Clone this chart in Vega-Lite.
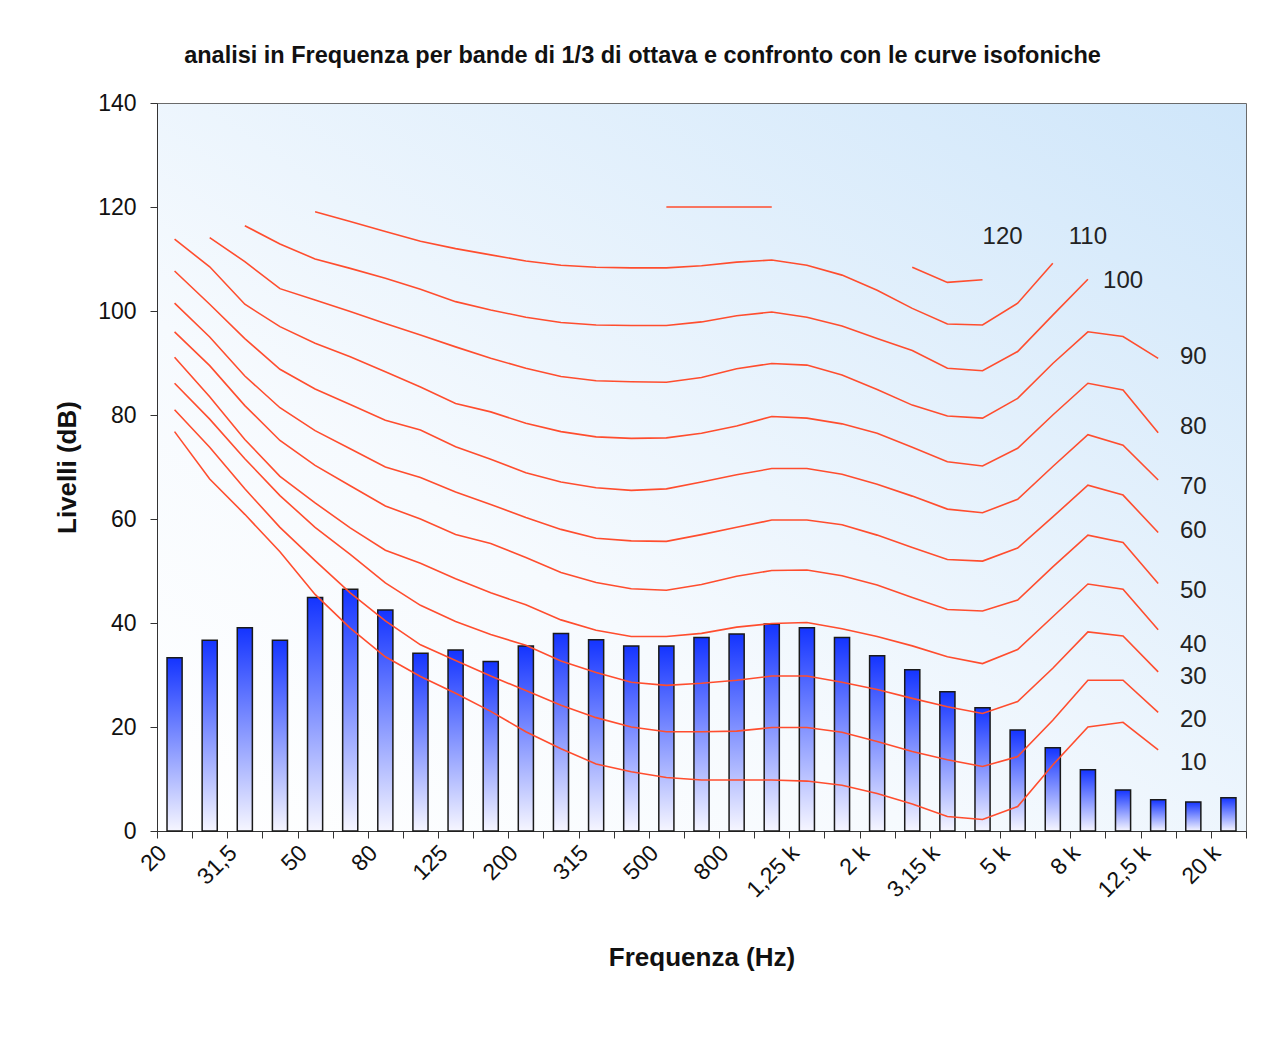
{
  "$schema": "https://vega.github.io/schema/vega-lite/v6.json",
  "width": 1089,
  "height": 728,
  "autosize": {"type": "none"},
  "padding": {"left": 157, "top": 103, "right": 24, "bottom": 223},
  "background": "white",
  "config": {
    "font": "Liberation Sans",
    "view": {
      "fill": {"gradient": "linear", "x1": 0, "y1": 1, "x2": 1, "y2": 0,
        "stops": [{"offset": 0, "color": "#ffffff"}, {"offset": 0.35, "color": "#f6fafe"}, {"offset": 1, "color": "#cfe6fa"}]},
      "stroke": "#6a6a6a",
      "strokeWidth": 1
    },
    "axis": {"grid": false, "domainColor": "#333333", "tickColor": "#333333", "tickSize": 7, "labelColor": "#111111", "labelFontSize": 23, "titleColor": "#111111", "titleFontSize": 26, "titleFontWeight": "bold"}
  },
  "title": {"text": "analisi in Frequenza per bande di 1/3 di ottava e confronto con le curve isofoniche", "fontSize": 23.5, "fontWeight": "bold", "color": "#111111", "offset": 25, "dx": -59},
  "datasets": {
    "bands": [
      {"f": "20", "n": 0, "level": 33.3, "c10": 76.8, "c20": 81.0, "c30": 86.1, "c40": 91.1, "c50": 96.0, "c60": 101.5, "c70": 107.7, "c80": 113.8},
      {"f": "25", "n": 1, "level": 36.7, "c10": 67.7, "c20": 73.8, "c30": 79.2, "c40": 83.5, "c50": 89.5, "c60": 95.0, "c70": 101.3, "c80": 108.5, "c90": 114.1},
      {"f": "31,5", "n": 2, "level": 39.1, "c10": 60.9, "c20": 65.8, "c30": 71.6, "c40": 75.3, "c50": 81.8, "c60": 87.5, "c70": 94.7, "c80": 101.3, "c90": 109.5, "c100": 116.4},
      {"f": "40", "n": 3, "level": 36.7, "c10": 53.7, "c20": 58.4, "c30": 64.5, "c40": 68.2, "c50": 75.1, "c60": 81.4, "c70": 88.8, "c80": 97.0, "c90": 104.3, "c100": 112.9},
      {"f": "50", "n": 4, "level": 44.9, "c10": 45.5, "c20": 52.0, "c30": 58.4, "c40": 63.1, "c50": 70.3, "c60": 77.0, "c70": 85.0, "c80": 93.8, "c90": 102.1, "c100": 110.0, "c110": 119.1},
      {"f": "63", "n": 5, "level": 46.5, "c10": 39.0, "c20": 45.8, "c30": 53.2, "c40": 58.3, "c50": 66.4, "c60": 73.5, "c70": 82.0, "c80": 91.2, "c90": 99.9, "c100": 108.2, "c110": 117.2},
      {"f": "80", "n": 6, "level": 42.5, "c10": 33.5, "c20": 40.4, "c30": 47.7, "c40": 54.0, "c50": 62.5, "c60": 70.0, "c70": 79.0, "c80": 88.3, "c90": 97.6, "c100": 106.3, "c110": 115.3},
      {"f": "100", "n": 7, "level": 34.2, "c10": 29.7, "c20": 35.8, "c30": 43.4, "c40": 51.5, "c50": 60.0, "c60": 68.0, "c70": 77.1, "c80": 85.4, "c90": 95.4, "c100": 104.2, "c110": 113.4},
      {"f": "125", "n": 8, "level": 34.8, "c10": 26.5, "c20": 32.8, "c30": 40.3, "c40": 48.5, "c50": 57.0, "c60": 65.2, "c70": 73.9, "c80": 82.2, "c90": 93.1, "c100": 101.8, "c110": 112.0},
      {"f": "160", "n": 9, "level": 32.6, "c10": 23.0, "c20": 29.8, "c30": 37.8, "c40": 45.8, "c50": 55.3, "c60": 62.8, "c70": 71.5, "c80": 80.6, "c90": 90.9, "c100": 100.2, "c110": 110.8},
      {"f": "200", "n": 10, "level": 35.6, "c10": 19.1, "c20": 27.0, "c30": 35.7, "c40": 43.5, "c50": 52.6, "c60": 60.3, "c70": 68.9, "c80": 78.4, "c90": 89.0, "c100": 98.8, "c110": 109.6},
      {"f": "250", "n": 11, "level": 38.0, "c10": 15.8, "c20": 24.2, "c30": 32.7, "c40": 40.6, "c50": 49.7, "c60": 58.0, "c70": 67.1, "c80": 76.8, "c90": 87.4, "c100": 97.8, "c110": 108.8},
      {"f": "315", "n": 12, "level": 36.8, "c10": 12.9, "c20": 21.8, "c30": 30.5, "c40": 38.6, "c50": 47.8, "c60": 56.3, "c70": 66.0, "c80": 75.8, "c90": 86.6, "c100": 97.3, "c110": 108.4},
      {"f": "400", "n": 13, "level": 35.6, "c10": 11.4, "c20": 20.0, "c30": 28.6, "c40": 37.4, "c50": 46.6, "c60": 55.8, "c70": 65.5, "c80": 75.5, "c90": 86.4, "c100": 97.2, "c110": 108.3},
      {"f": "500", "n": 14, "level": 35.6, "c10": 10.3, "c20": 19.1, "c30": 28.0, "c40": 37.4, "c50": 46.3, "c60": 55.7, "c70": 65.8, "c80": 75.6, "c90": 86.3, "c100": 97.2, "c110": 108.3, "c120a": 120},
      {"f": "630", "n": 15, "level": 37.2, "c10": 9.8, "c20": 19.1, "c30": 28.4, "c40": 38.0, "c50": 47.4, "c60": 57.0, "c70": 67.1, "c80": 76.5, "c90": 87.2, "c100": 97.9, "c110": 108.7, "c120a": 120},
      {"f": "800", "n": 16, "level": 37.9, "c10": 9.8, "c20": 19.2, "c30": 29.0, "c40": 39.2, "c50": 49.0, "c60": 58.4, "c70": 68.5, "c80": 77.9, "c90": 88.9, "c100": 99.1, "c110": 109.4, "c120a": 120},
      {"f": "1 k", "n": 17, "level": 39.8, "c10": 9.8, "c20": 19.9, "c30": 29.8, "c40": 39.9, "c50": 50.1, "c60": 59.8, "c70": 69.7, "c80": 79.7, "c90": 89.9, "c100": 99.8, "c110": 109.8, "c120a": 120},
      {"f": "1,25 k", "n": 18, "level": 39.1, "c10": 9.6, "c20": 19.9, "c30": 29.8, "c40": 40.1, "c50": 50.2, "c60": 59.8, "c70": 69.7, "c80": 79.4, "c90": 89.6, "c100": 98.8, "c110": 108.8},
      {"f": "1,6 k", "n": 19, "level": 37.2, "c10": 8.8, "c20": 19.0, "c30": 28.6, "c40": 38.9, "c50": 49.1, "c60": 58.9, "c70": 68.6, "c80": 78.3, "c90": 87.7, "c100": 97.1, "c110": 106.9},
      {"f": "2 k", "n": 20, "level": 33.7, "c10": 7.2, "c20": 17.2, "c30": 27.2, "c40": 37.4, "c50": 47.3, "c60": 56.9, "c70": 66.7, "c80": 76.5, "c90": 84.9, "c100": 94.7, "c110": 104.0},
      {"f": "2,5 k", "n": 21, "level": 31.0, "c10": 5.2, "c20": 15.3, "c30": 25.5, "c40": 35.6, "c50": 44.9, "c60": 54.5, "c70": 64.4, "c80": 73.8, "c90": 81.9, "c100": 92.4, "c110": 100.5, "c120b": 108.4},
      {"f": "3,15 k", "n": 22, "level": 26.8, "c10": 2.8, "c20": 13.7, "c30": 23.9, "c40": 33.5, "c50": 42.6, "c60": 52.2, "c70": 61.9, "c80": 71.0, "c90": 79.8, "c100": 89.0, "c110": 97.5, "c120b": 105.5},
      {"f": "4 k", "n": 23, "level": 23.7, "c10": 2.2, "c20": 12.4, "c30": 22.6, "c40": 32.2, "c50": 42.3, "c60": 51.9, "c70": 61.2, "c80": 70.2, "c90": 79.4, "c100": 88.5, "c110": 97.3, "c120b": 106.0},
      {"f": "5 k", "n": 24, "level": 19.4, "c10": 4.7, "c20": 14.3, "c30": 24.9, "c40": 34.9, "c50": 44.4, "c60": 54.4, "c70": 63.8, "c80": 73.6, "c90": 83.2, "c100": 92.2, "c110": 101.5},
      {"f": "6,3 k", "n": 25, "level": 16.0, "c10": 12.7, "c20": 21.3, "c30": 31.3, "c40": 41.2, "c50": 50.8, "c60": 60.4, "c70": 70.1, "c80": 80.0, "c90": 89.9, "c100": 99.2, "c110": 109.2},
      {"f": "8 k", "n": 26, "level": 11.8, "c10": 20.0, "c20": 29.0, "c30": 38.3, "c40": 47.5, "c50": 56.9, "c60": 66.5, "c70": 76.2, "c80": 86.1, "c90": 96.0, "c100": 106.1},
      {"f": "10 k", "n": 27, "level": 7.9, "c10": 20.9, "c20": 29.0, "c30": 37.5, "c40": 46.5, "c50": 55.5, "c60": 64.6, "c70": 74.2, "c80": 84.8, "c90": 95.1},
      {"f": "12,5 k", "n": 28, "level": 6.0, "c10": 15.6, "c20": 22.8, "c30": 30.6, "c40": 38.7, "c50": 47.6, "c60": 57.4, "c70": 67.5, "c80": 76.6, "c90": 90.9},
      {"f": "16 k", "n": 29, "level": 5.6},
      {"f": "20 k", "n": 30, "level": 6.4}
    ],
    "labels": [
      {"f": "4 k", "db": 114.2, "t": "120"},
      {"f": "8 k", "db": 114.2, "t": "110"},
      {"f": "10 k", "db": 105.8, "t": "100"},
      {"f": "16 k", "db": 91.2, "t": "90"},
      {"f": "16 k", "db": 77.7, "t": "80"},
      {"f": "16 k", "db": 66.2, "t": "70"},
      {"f": "16 k", "db": 57.7, "t": "60"},
      {"f": "16 k", "db": 46.2, "t": "50"},
      {"f": "16 k", "db": 35.8, "t": "40"},
      {"f": "16 k", "db": 29.6, "t": "30"},
      {"f": "16 k", "db": 21.3, "t": "20"},
      {"f": "16 k", "db": 13.1, "t": "10"}
    ]
  },
  "encoding": {
    "x": {
      "field": "f", "type": "ordinal",
      "scale": {"domain": ["20", "25", "31,5", "40", "50", "63", "80", "100", "125", "160", "200", "250", "315", "400", "500", "630", "800", "1 k", "1,25 k", "1,6 k", "2 k", "2,5 k", "3,15 k", "4 k", "5 k", "6,3 k", "8 k", "10 k", "12,5 k", "16 k", "20 k"], "paddingInner": 0, "paddingOuter": 0},
      "axis": {
        "title": "Frequenza (Hz)", "labelAngle": -45, "labelAlign": "right", "labelBaseline": "middle",
        "tickBand": "extent", "labelPadding": 11, "labelOffset": -12, "titlePadding": 43, "labelOverlap": false,
        "labelExpr": "indexof(['20','31,5','50','80','125','200','315','500','800','1,25 k','2 k','3,15 k','5 k','8 k','12,5 k','20 k'], datum.value) >= 0 ? datum.label : ''"
      }
    }
  },
  "layer": [
    {
      "data": {"name": "bands"},
      "mark": {
        "type": "bar", "width": {"band": 0.43}, "stroke": "#1a1a1a", "strokeWidth": 1.5,
        "fill": {"gradient": "linear", "x1": 0, "y1": 0, "x2": 0, "y2": 1,
          "stops": [{"offset": 0, "color": "#1434ff"}, {"offset": 1, "color": "#f6f6ff"}]}
      },
      "encoding": {
        "y": {
          "field": "level", "type": "quantitative",
          "scale": {"domain": [0, 140], "nice": false},
          "axis": {"title": "Livelli (dB)", "values": [0, 20, 40, 60, 80, 100, 120, 140], "labelPadding": 14, "titlePadding": 17}
        }
      }
    },
    {
      "data": {"name": "bands"},
      "transform": [
        {"fold": ["c10", "c20", "c30", "c40", "c50", "c60", "c70", "c80", "c90", "c100", "c110", "c120a", "c120b"], "as": ["curve", "db"]},
        {"filter": "isValid(datum.db)"}
      ],
      "mark": {"type": "line", "stroke": "#ff4d2e", "strokeWidth": 1.6},
      "encoding": {
        "y": {"field": "db", "type": "quantitative"},
        "detail": {"field": "curve"},
        "order": {"field": "n"}
      }
    },
    {
      "data": {"name": "labels"},
      "transform": [{"filter": "datum.t === '120'"}],
      "mark": {"type": "text", "align": "left", "baseline": "middle", "fontSize": 24, "color": "#222222"},
      "encoding": {
        "y": {"field": "db", "type": "quantitative"},
        "text": {"field": "t"}
      }
    },
    {
      "data": {"name": "labels"},
      "transform": [{"filter": "datum.t !== '120'"}],
      "mark": {"type": "text", "align": "center", "baseline": "middle", "fontSize": 24, "color": "#222222"},
      "encoding": {
        "y": {"field": "db", "type": "quantitative"},
        "text": {"field": "t"}
      }
    }
  ]
}
